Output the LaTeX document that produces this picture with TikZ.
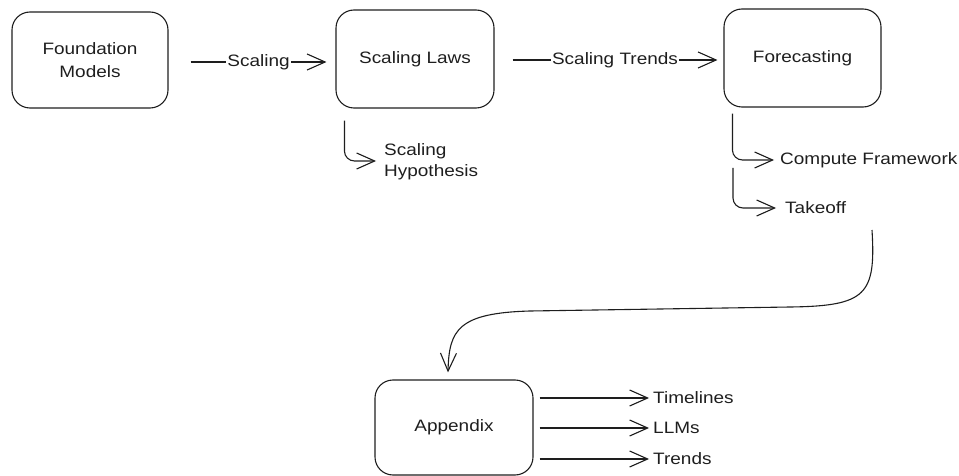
\documentclass[tikz,border=0pt]{standalone}
\usepackage{fontspec}
\setmainfont{Liberation Sans}[FakeStretch=1.15]
\usetikzlibrary{arrows.meta}
\definecolor{ink}{HTML}{1E1E1E}
\begin{document}
\begin{tikzpicture}[x=1pt,y=-1pt,
  every node/.style={text=ink, font=\fontsize{16.5}{23}\selectfont},
  box/.style={draw=ink, line width=1.1pt, rounded corners=18pt, align=center, inner sep=0pt},
  conn/.style={draw=ink, line width=1.1pt, -{Straight Barb[length=18pt,width=16pt,line width=1.1pt]}},
  lbl/.style={fill=white, inner sep=1pt},
  leaf/.style={anchor=west, align=left, inner sep=0pt}]
\path[use as bounding box] (0,0) rectangle (959,476);

\node[box, minimum width=156pt, minimum height=96pt] (fm) at (90,60) {Foundation\\Models};
\node[box, minimum width=158pt, minimum height=98pt] (sl) at (415,59) {Scaling Laws};
\node[box, minimum width=157pt, minimum height=98pt] (fc) at (802.5,58) {Forecasting};
\node[box, minimum width=158pt, minimum height=95pt] (ap) at (454,427.5) {Appendix};

\draw[conn] ([xshift=22pt,yshift=-2pt]fm.east) -- node[lbl]{Scaling} ([xshift=-9pt,yshift=-3pt]sl.west);
\draw[conn] ([xshift=18pt,yshift=-1pt]sl.east) -- node[lbl]{Scaling Trends} ([xshift=-6pt,yshift=-2pt]fc.west);

\node[leaf, font=\fontsize{16.5}{21}\selectfont] (sh) at (384,162) {Scaling\\Hypothesis};
\draw[conn, rounded corners=10pt] ([xshift=9pt,yshift=-12pt]sl.south west) |- ([xshift=-8pt,yshift=1pt]sh.west);

\node[leaf] (cf) at (780,160) {Compute Framework};
\draw[conn, rounded corners=10pt] ([xshift=9pt,yshift=-6pt]fc.south west) |- ([xshift=-6pt]cf.west);

\node[leaf] (to) at (785,208) {Takeoff};
\coordinate (t0) at (733,168);
\draw[conn, rounded corners=10pt] (t0) |- ([xshift=-9pt]to.west);

\coordinate (c0) at (872,230);
\draw[conn] (c0) .. controls (876,295) and (866,306) .. (790,307) -- (530,311) .. controls (458,313) and (449,330) .. ([xshift=-6pt,yshift=7pt]ap.north);

\node[leaf] (tl) at (653,398) {Timelines};
\node[leaf] (ll) at (653,428) {LLMs};
\node[leaf] (tr) at (653,459) {Trends};
\draw[conn] ([xshift=6pt]ap.east |- tl.west) -- ([xshift=-4pt]tl.west);
\draw[conn] ([xshift=6pt]ap.east |- ll.west) -- ([xshift=-4pt]ll.west);
\draw[conn] ([xshift=6pt]ap.east |- tr.west) -- ([xshift=-4pt]tr.west);
\end{tikzpicture}
\end{document}
